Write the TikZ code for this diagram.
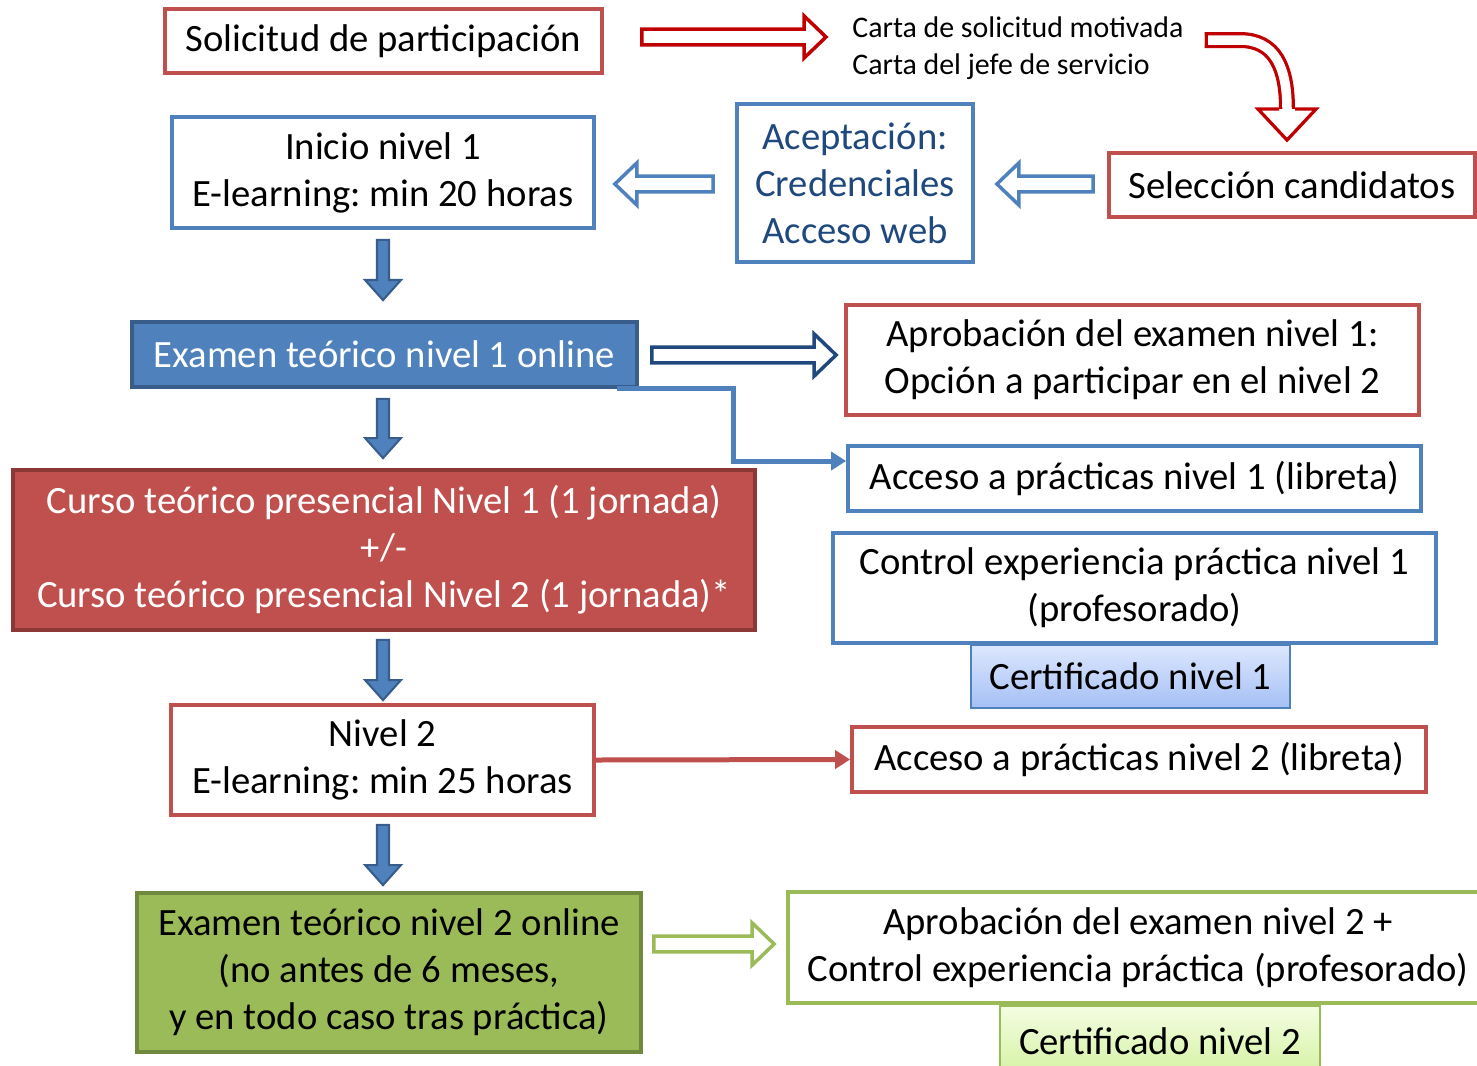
\documentclass[tikz,border=0pt]{standalone}
\usepackage{fontspec}
\setmainfont{Carlito}
\usetikzlibrary{arrows.meta,positioning,calc}

\definecolor{rojo}{HTML}{C0504D}
\definecolor{rojooscuro}{HTML}{8C3836}
\definecolor{carmin}{HTML}{C00000}
\definecolor{azul}{HTML}{4F81BD}
\definecolor{azuloscuro}{HTML}{385D8A}
\definecolor{marino}{HTML}{1F497D}
\definecolor{verde}{HTML}{9BBB59}
\definecolor{verdeoscuro}{HTML}{71893F}
\definecolor{celesteclaro}{HTML}{DDE7FE}
\definecolor{celeste}{HTML}{A5C0F5}
\definecolor{verdeclaro}{HTML}{F3FDE2}
\definecolor{verdelima}{HTML}{D5F2A2}

\tikzset{
  caja/.style={draw, line width=2.2pt, fill=white, text=black, inner sep=0pt,
    align=center, font=\fontsize{22}{26.7}\selectfont\frenchspacing},
  cajaroja/.style={caja, draw=rojo},
  cajaazul/.style={caja, draw=azul},
  cajaverde/.style={caja, draw=verde},
  hueca/.style={line width=0.07cm, fill=white, line join=miter},
  bajada/.style={fill=azul, draw=azuloscuro, line width=1.2pt},
  linea/.style={line width=0.1cm, -{Triangle[width=0.36cm,length=0.3cm]}},
}

% block arrow: style, from, to, shaft half width, head half width, head length
\newcommand\flecha[6]{%
  \coordinate (fm) at ($(#3)!#6!(#2)$);
  \draw[#1] ($(#2)!#4!90:(#3)$) -- ($(fm)!#4!-90:(#2)$) -- ($(fm)!#5!-90:(#2)$)
    -- (#3) -- ($(fm)!#5!90:(#2)$) -- ($(fm)!#4!90:(#2)$)
    -- ($(#2)!#4!-90:(#3)$) -- cycle;}

\begin{document}
\begin{tikzpicture}[x=0.02cm, y=-0.02cm]

      \useasboundingbox (0,0) rectangle (1477,1065);
      \clip (0,0) rectangle (1477,1065);

      \node[cajaroja, minimum width=8.74cm, minimum height=1.28cm] at (383.5,41) (sol) {Solicitud de participación};
      \node[inner sep=0pt, anchor=west, align=left, font=\fontsize{17}{21}\selectfont] at (852,48) (carta) {Carta de solicitud motivada\\Carta del jefe de servicio};
      \node[cajaroja, minimum width=7.32cm, minimum height=1.28cm] at (1292,185) (sel) {Selección candidatos};
      \node[cajaazul, text=marino, minimum width=4.72cm, minimum height=3.16cm] at (855,183) (acep) {Aceptación:\\Credenciales\\Acceso web};
      \node[cajaazul, minimum width=8.44cm, minimum height=2.22cm] at (383,172.5) (ini) {Inicio nivel 1\\E-learning: min 20 horas};

      \node[caja, fill=azul, draw=azuloscuro, text=white, minimum width=10.1cm, minimum height=1.3cm] at (384.5,354.5) (ex1) {Examen teórico nivel 1 online};
      \node[cajaroja, minimum width=11.46cm, minimum height=2.2cm] at (1132.5,360) (apr1) {Aprobación del examen nivel 1:\\Opción a participar en el nivel 2};
      \node[cajaazul, minimum width=11.46cm, minimum height=1.3cm] at (1134.5,478.5) (acc1) {Acceso a prácticas nivel 1 (libreta)};

      \node[caja, fill=rojo, draw=rojooscuro, text=white, minimum width=14.84cm, minimum height=3.2cm] at (384,550) (curso) {Curso teórico presencial Nivel 1 (1 jornada)\\+/-\\Curso teórico presencial Nivel 2 (1 jornada)*};
      \node[cajaazul, minimum width=12.06cm, minimum height=2.2cm] at (1134.5,588) (ctrl) {Control experiencia práctica nivel 1\\(profesorado)};
      \node[cajaazul, line width=1.5pt, top color=celesteclaro, bottom color=celeste, minimum width=6.38cm, minimum height=1.26cm] at (1130.5,676.5) (cert1) {Certificado nivel 1};

      \node[cajaroja, minimum width=8.46cm, minimum height=2.2cm] at (382.5,760) (niv2) {Nivel 2\\E-learning: min 25 horas};
      \node[cajaroja, minimum width=11.48cm, minimum height=1.3cm] at (1139,759.5) (acc2) {Acceso a prácticas nivel 2 (libreta)};

      \node[caja, fill=verde, draw=verdeoscuro, minimum width=10.08cm, minimum height=3.18cm] at (389,972.5) (ex2) {Examen teórico nivel 2 online\\(no antes de 6 meses,\\y en todo caso tras práctica)};
      \node[cajaverde, minimum width=14cm, minimum height=2.22cm] at (1138,947.5) (apr2) {Aprobación del examen nivel 2 +\\Control experiencia práctica (profesorado)};
      \node[cajaverde, line width=1.5pt, top color=verdeclaro, bottom color=verdelima, minimum width=6.4cm, minimum height=1.4cm] at (1160,1041) (cert2) {Certificado nivel 2};

      % hollow arrows
      \coordinate (a1) at ($(sol.east)+(38,-4)$);
      \coordinate (b1) at ($(carta.west)+(-26,-11)$);
      \flecha{hueca, draw=carmin}{a1}{b1}{4.5pt}{12pt}{12.5pt}
      \coordinate (a2) at ($(sel.west)+(-14,-1)$);
      \coordinate (b2) at ($(acep.east)+(22,1)$);
      \flecha{hueca, draw=azul}{a2}{b2}{4.5pt}{12pt}{12.5pt}
      \coordinate (a3) at ($(acep.west)+(-22,1)$);
      \coordinate (b3) at ($(ini.east)+(19,11.5)$);
      \flecha{hueca, draw=azul}{a3}{b3}{4.5pt}{12pt}{12.5pt}
      \coordinate (a4) at ($(ex1.east)+(13,0.5)$);
      \coordinate (b4) at ($(apr1.west)+(-8,-5)$);
      \flecha{hueca, draw=marino}{a4}{b4}{4.5pt}{12pt}{12.5pt}
      \coordinate (a5) at ($(ex2.east)+(11,-28.5)$);
      \coordinate (b5) at ($(apr2.west)+(-12,-3.5)$);
      \flecha{hueca, draw=verde}{a5}{b5}{4.5pt}{12pt}{12.5pt}

      % curved one
      \coordinate (cu0) at ($(carta.east)+(21,-8)$);
      \coordinate (cu1) at ($(sel.north)+(-5,-42)$);
      \coordinate (cu2) at ($(sel.north)+(-5,-11)$);
      \draw[carmin, line width=0.065cm, double=white, double distance=0.19cm] (cu0) -- ++(35,0) .. controls +(35,0) and +(0,-42) .. (cu1);
      \draw[carmin, line width=0.065cm, fill=white, line join=miter] ($(cu1)+(-8,0)$) -- ($(cu1)+(-29,0)$) -- (cu2) -- ($(cu1)+(29,0)$) -- ($(cu1)+(8,0)$);
      \draw[carmin, line width=0.065cm] ($(cu0)+(1.6,-8)$) -- ($(cu0)+(1.6,8)$);

      % down arrows
      \coordinate (d1) at ($(ini.south)+(0,10)$);
      \coordinate (e1) at ($(ex1.north)+(-1.5,-20)$);
      \flecha{bajada}{d1}{e1}{3.4pt}{10.2pt}{11.4pt}
      \coordinate (d2) at ($(ex1.south)+(-1.5,10)$);
      \coordinate (e2) at ($(curso.north)+(-1,-10)$);
      \flecha{bajada}{d2}{e2}{3.4pt}{10.2pt}{11.4pt}
      \coordinate (d3) at ($(curso.south)+(-1,8)$);
      \coordinate (e3) at ($(niv2.north)+(0.5,-3)$);
      \flecha{bajada}{d3}{e3}{3.4pt}{10.2pt}{11.4pt}
      \coordinate (d4) at ($(niv2.south)+(0.5,8)$);
      \coordinate (e4) at ($(ex2.north)+(-6,-6)$);
      \flecha{bajada}{d4}{e4}{3.4pt}{10.2pt}{11.4pt}

      % plain arrows
      \coordinate (g0) at ($(ex1.south east)+(-22,0)$);
      \draw[linea, azul] (g0) -- ($(g0)+(117,0)$) |- ($(acc1.west)+(0,-17.5)$);
      \draw[linea, rojo] (niv2.east) -- (acc2.west);

    \end{tikzpicture}
\end{document}
